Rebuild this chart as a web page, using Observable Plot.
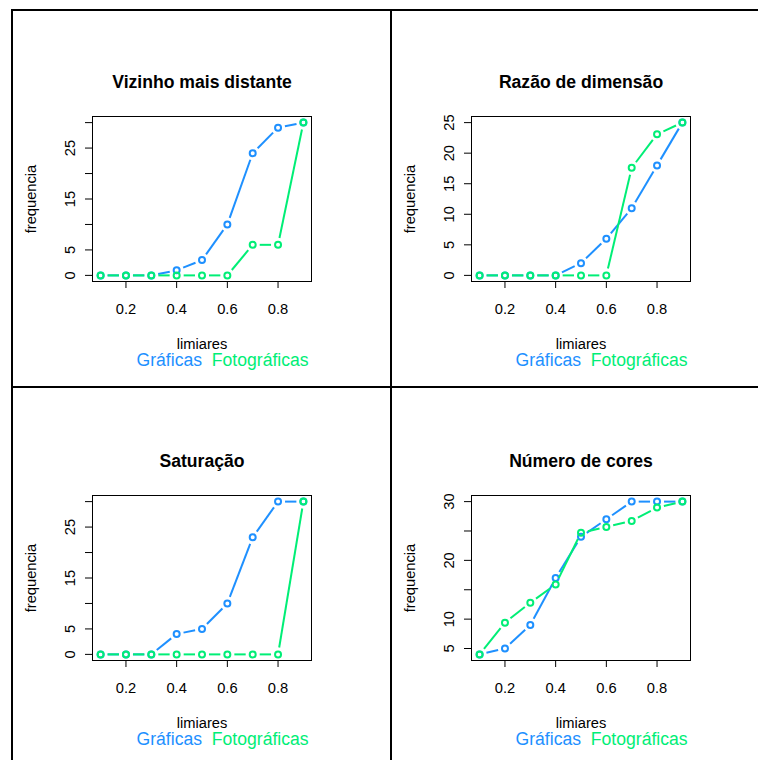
<!DOCTYPE html>
<html>
<head>
<meta charset="utf-8">
<script src="https://cdn.jsdelivr.net/npm/d3@7"></script>
<script src="https://cdn.jsdelivr.net/npm/@observablehq/plot@0.6"></script>
<style>
  html, body { margin: 0; padding: 0; background: #fff; }
  #root { position: relative; width: 758px; height: 760px; overflow: hidden; background: #fff;
          font-family: "Liberation Sans", Arial, Helvetica, sans-serif; }
  .panel { position: absolute; width: 379px; height: 377px; }
  .panel svg { background: transparent !important; max-width: none !important; width: 379px; height: 377px; }
  .box { position: absolute; border: 2px solid #000; box-sizing: border-box; pointer-events: none; }
</style>
</head>
<body>
<div id="root"></div>
<script>
// ---- data ----
const limiares = [0.1, 0.2, 0.3, 0.4, 0.5, 0.6, 0.7, 0.8, 0.9];
const xTicks = [0.2, 0.4, 0.6, 0.8];
const series = ["Gráficas", "Fotográficas"];
const xLabel = "limiares";
const yLabel = "frequencia";

const titulos = ["Vizinho mais distante", "Razão de dimensão", "Saturação", "Número de cores"];

const graficasVizinho     = [0, 0, 0, 1, 3, 10, 24, 29, 30];
const fotograficasVizinho = [0, 0, 0, 0, 0, 0, 6, 6, 30];

const graficasRazao     = [0, 0, 0, 0, 2, 6, 11, 18, 25];
const fotograficasRazao = [0, 0, 0, 0, 0, 0, 17.6, 23.1, 25];

const graficasSaturacao     = [0, 0, 0, 4, 5, 10, 23, 30, 30];
const fotograficasSaturacao = [0, 0, 0, 0, 0, 0, 0, 0, 30];

const graficasCores     = [4, 5, 9, 17, 24, 27, 30, 30, 30];
const fotograficasCores = [4, 9.4, 12.8, 15.9, 24.7, 25.7, 26.7, 29, 30];

const yTicksVizinho   = [0, 5, 10, 15, 20, 25, 30];
const yLabelsVizinho  = [0, 5, 15, 25];
const yTicksRazao     = [0, 5, 10, 15, 20, 25];
const yLabelsRazao    = [0, 5, 10, 15, 20, 25];
const yTicksSaturacao = [0, 5, 10, 15, 20, 25, 30];
const yLabelsSaturacao = [0, 5, 15, 25];
const yTicksCores     = [5, 10, 15, 20, 25, 30];
const yLabelsCores    = [5, 10, 20, 30];

// ---- style ----
const colors = ["#1E90FF", "#00EE76"];
const FONT = "\"Liberation Sans\", Arial, Helvetica, sans-serif";
const BASE = 14.7, BIG = 17.6;
const PW = 379, PH = 377;

const panels = [
  {title: titulos[0], a: graficasVizinho, b: fotograficasVizinho, ticks: yTicksVizinho, labels: yLabelsVizinho, x0: 12, y0: 10},
  {title: titulos[1], a: graficasRazao, b: fotograficasRazao, ticks: yTicksRazao, labels: yLabelsRazao, x0: 391, y0: 10},
  {title: titulos[2], a: graficasSaturacao, b: fotograficasSaturacao, ticks: yTicksSaturacao, labels: yLabelsSaturacao, x0: 12, y0: 389},
  {title: titulos[3], a: graficasCores, b: fotograficasCores, ticks: yTicksCores, labels: yLabelsCores, x0: 391, y0: 389}
];

const root = document.getElementById("root");

function seriesMarks(vals, color) {
  const pts = limiares.map((x, i) => ({x, y: vals[i]}));
  const segs = d3.pairs(pts).map(([p, q]) => ({x1: p.x, y1: p.y, x2: q.x, y2: q.y}));
  return [
    Plot.arrow(segs, {x1: "x1", y1: "y1", x2: "x2", y2: "y2", stroke: color, strokeWidth: 2,
      headLength: 0, insetStart: 7, insetEnd: 7, strokeLinecap: "butt"}),
    Plot.dot(pts, {x: "x", y: "y", r: 3, stroke: color, strokeWidth: 2, fill: "none"})
  ];
}

for (const p of panels) {
  const all = p.a.concat(p.b);
  const lo = d3.min(all), hi = d3.max(all), ext = (hi - lo) * 0.04;
  const xlo = d3.min(limiares), xhi = d3.max(limiares), xext = (xhi - xlo) * 0.04;

  const chart = Plot.plot({
    width: PW, height: PH,
    marginLeft: 80, marginRight: PW - 299, marginTop: 106, marginBottom: PH - 271,
    style: {fontFamily: FONT, fontSize: BASE + "px", background: "transparent", color: "#000", maxWidth: "none"},
    x: {type: "linear", domain: [xlo - xext, xhi + xext]},
    y: {type: "linear", domain: [lo - ext, hi + ext]},
    marks: [
      Plot.frame({stroke: "#000", strokeWidth: 1}),
      Plot.axisX({ticks: xTicks, tickSize: 7, tickPadding: 15, tickFormat: d3.format(".1f"), label: null, fontSize: BASE}),
      Plot.axisY({ticks: p.ticks, tickSize: 7, tickFormat: () => "", label: null}),
      Plot.text(p.labels, {y: d => d, text: d => String(d), frameAnchor: "left", dx: -22.3, rotate: -90,
        textAnchor: "middle", lineAnchor: "middle", fontSize: BASE, fill: "#000"}),
      Plot.text([yLabel], {text: d => d, frameAnchor: "left", dx: -61, rotate: -90, textAnchor: "middle",
        lineAnchor: "middle", fontSize: BASE, fill: "#000"}),
      Plot.text([xLabel], {text: d => d, frameAnchor: "bottom", dy: 63, lineAnchor: "middle", fontSize: BASE, fill: "#000"}),
      Plot.text([p.title], {text: d => d, frameAnchor: "top", dy: -34, lineAnchor: "middle", fontSize: BIG,
        fontWeight: "bold", fill: "#000"}),
      Plot.text([series[0]], {text: d => d, frameAnchor: "bottom-left", dx: 44, dy: 79, textAnchor: "start",
        lineAnchor: "middle", fontSize: BIG, fill: colors[0]}),
      Plot.text([series[1]], {text: d => d, frameAnchor: "bottom-left", dx: 119.3, dy: 79, textAnchor: "start",
        lineAnchor: "middle", fontSize: BIG, fill: colors[1]}),
      ...seriesMarks(p.a, colors[0]),
      ...seriesMarks(p.b, colors[1])
    ]
  });
  const div = document.createElement("div");
  div.className = "panel";
  div.style.left = p.x0 + "px";
  div.style.top = p.y0 + "px";
  div.appendChild(chart);
  root.appendChild(div);
}

// panel boxes (figure borders)
for (const [l, t] of [[11, 9], [390, 9], [11, 386], [390, 386]]) {
  const b = document.createElement("div");
  b.className = "box";
  b.style.left = l + "px"; b.style.top = t + "px";
  b.style.width = "381px"; b.style.height = "379px";
  root.appendChild(b);
}
</script>
</body>
</html>
